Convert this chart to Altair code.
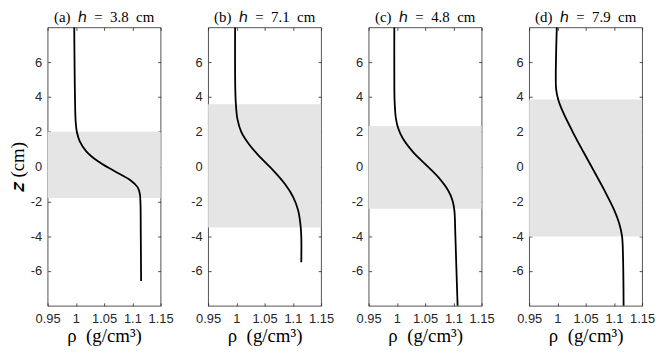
import altair as alt
import pandas as pd

# ---- data ----
panel_ids = ["a", "b", "c", "d"]
panel_titles = [
    "(a)\u2002\u210e\u2002=\u20023.8\u2002cm",
    "(b)\u2002\u210e\u2002=\u20027.1\u2002cm",
    "(c)\u2002\u210e\u2002=\u20024.8\u2002cm",
    "(d)\u2002\u210e\u2002=\u20027.9\u2002cm",
]

z_a = [8, 6.5, 4.6, 3.3, 2.6, 2.0, 1.45, 0.88, 0.32, -0.24, -0.8, -1.18, -1.55, -2.12, -3.8, -6.57]
rho_a = [0.9971, 0.9975, 0.9981, 0.9988, 0.9996, 1.0017, 1.0069, 1.0184, 1.0385, 1.0672, 1.0971,
         1.1092, 1.1132, 1.1144, 1.1149, 1.1155]

z_b = [8, 5.6, 4.4, 3.7, 2.76, 2.0, 1.26, 0.51, -0.24, -1.0, -1.75, -2.5, -3.25, -4.0, -5.5]
rho_b = [0.9977, 0.9977, 0.9981, 0.9989, 1.0017, 1.0086, 1.023, 1.043, 1.066, 1.086, 1.1006,
         1.1092, 1.1132, 1.1149, 1.1149]

z_c = [8, 5.6, 3.7, 2.76, 2.2, 1.63, 0.88, 0.13, -0.62, -1.37, -1.93, -2.5, -3.8, -5.7, -8.0]
rho_c = [0.9954, 0.9954, 0.996, 0.9983, 1.0023, 1.0103, 1.0276, 1.0506, 1.0736, 1.0908, 1.0983,
         1.1017, 1.1034, 1.1052, 1.1075]

z_d = [8, 6.5, 5.0, 4.45, 3.89, 3.14, 2.0, 0.88, -0.24, -1.37, -2.5, -3.24, -4.0, -5.1, -8.0]
rho_d = [0.9989, 0.9977, 0.9971, 0.9977, 1.0011, 1.0098, 1.027, 1.0454, 1.0644, 1.0833, 1.1006,
         1.1092, 1.1144, 1.1161, 1.1172]

band_lo = [-1.8, -3.5, -2.42, -4.02]
band_hi = [2.0, 3.58, 2.33, 3.85]

x_ticks = [0.95, 1, 1.05, 1.1, 1.15]
y_ticks = [-6, -4, -2, 0, 2, 4, 6]

# ---- tables ----
rows = []
for pid, zs, rs in zip(panel_ids, [z_a, z_b, z_c, z_d], [rho_a, rho_b, rho_c, rho_d]):
    for i, (z, r) in enumerate(zip(zs, rs)):
        rows.append({"panel": pid, "i": i, "z": z, "rho": r})
profiles = pd.DataFrame(rows)
bands = pd.DataFrame({"panel": panel_ids, "lo": band_lo, "hi": band_hi})

X_DOM = [0.95, 1.15]
Y_DOM = [-8, 8]
AX = "#262626"
SANS = "Liberation Sans"
SERIF = "Liberation Serif"
W = 114
H = 281


def xscale():
    return alt.Scale(domain=X_DOM, nice=False, zero=False)


def yscale():
    return alt.Scale(domain=Y_DOM, nice=False, zero=False)


def panel(k):
    pid = panel_ids[k]
    left_axis = alt.Axis(
        orient="left", values=y_ticks, labelExpr="datum.value + ''", domain=False, grid=False,
        tickSize=3, offset=-3, tickColor=AX, tickWidth=0.8, labelPadding=6, minExtent=0,
        labelFont=SANS, labelFontSize=13, labelColor=AX,
        titleFont=SERIF, titleFontSize=19, titleFontWeight="normal", titleColor="black",
        titlePadding=3,
    )
    bottom_axis = alt.Axis(
        orient="bottom", values=x_ticks, labelExpr="datum.value + ''", domain=False, grid=False,
        tickSize=3, offset=-3, tickColor=AX, tickWidth=0.8, labelPadding=7, minExtent=0,
        labelFont=SANS, labelFontSize=13, labelColor=AX, labelFlush=False, labelOverlap=False,
        titleFont=SERIF, titleFontSize=19, titleFontWeight="normal", titleColor="black",
        titlePadding=1,
    )
    top_axis = alt.Axis(orient="top", values=x_ticks, labels=False, domain=False, grid=False,
                        tickSize=3, offset=-3, tickColor=AX, tickWidth=0.8,
                        minExtent=0, maxExtent=0, labelPadding=0)
    right_axis = alt.Axis(orient="right", values=y_ticks, labels=False, domain=False, grid=False,
                          tickSize=3, offset=-3, tickColor=AX, tickWidth=0.8, minExtent=0)

    ytitle = "\U0001D467 (cm)" if k == 0 else None

    band = alt.Chart(bands[bands.panel == pid]).mark_rect(color="#e5e5e5").encode(
        y=alt.Y("lo:Q", scale=yscale(), axis=left_axis, title=ytitle),
        y2="hi:Q",
    )
    line = alt.Chart(profiles[profiles.panel == pid]).mark_line(
        color="black", strokeWidth=1.8, interpolate="catmull-rom"
    ).encode(
        x=alt.X("rho:Q", scale=xscale(), axis=bottom_axis, title="\u03c1\u2002(g/cm\u00b3)"),
        y=alt.Y("z:Q", scale=yscale(), axis=None),
        order="i:Q",
    )
    ghost = alt.Chart(profiles[profiles.panel == pid]).mark_line(strokeOpacity=0).encode(
        x=alt.X("rho:Q", scale=xscale(), axis=top_axis, title=None),
        y=alt.Y("z:Q", scale=yscale(), axis=right_axis, title=None),
        order="i:Q",
    )
    return alt.layer(band, line, ghost).resolve_axis(x="independent", y="independent").properties(
        width=W, height=H,
        title=alt.TitleParams(text=panel_titles[k], font=SERIF, fontSize=15, fontWeight="normal",
                              color="black", anchor="middle", offset=-1),
    )


chart = alt.hconcat(*[panel(k) for k in range(4)], spacing=16).properties(
    padding={"left": 0, "top": 0, "right": 0, "bottom": 0}
).configure_view(stroke=AX, strokeWidth=0.8)

chart.save("out.html", embed_options={"renderer": "svg", "actions": False})
